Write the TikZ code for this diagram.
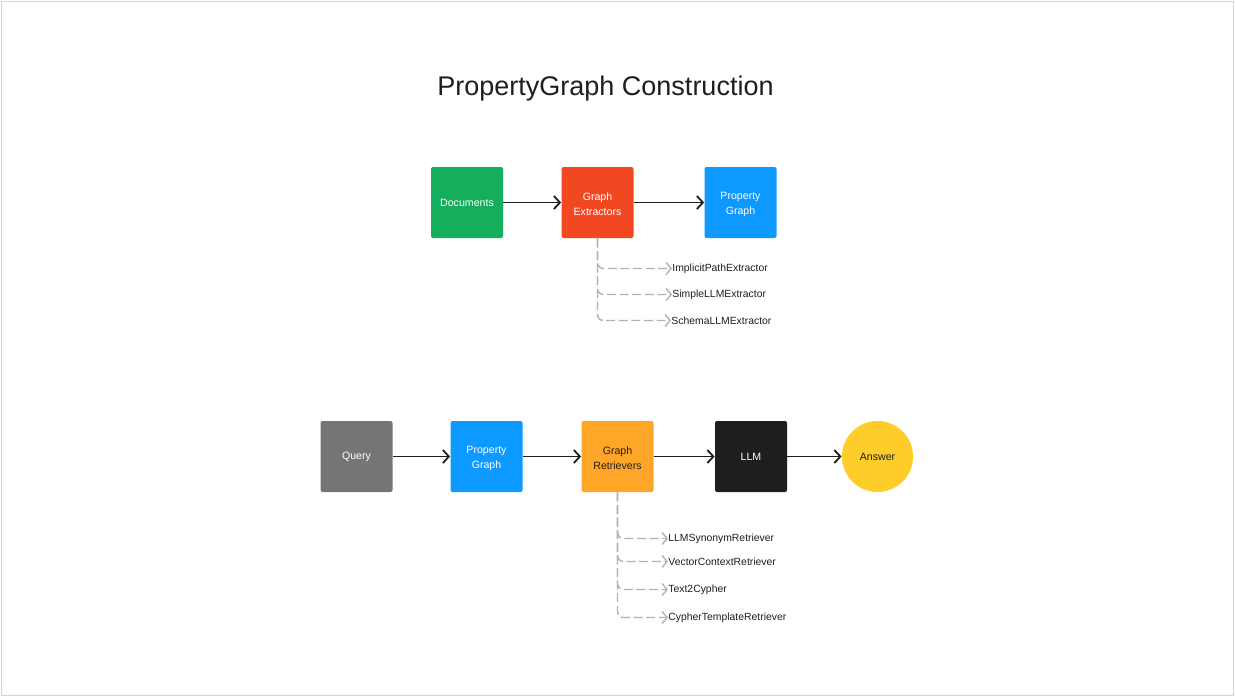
\documentclass[tikz,border=0pt]{standalone}
\usepackage{fontspec}
\setmainfont{Liberation Sans}
\usetikzlibrary{arrows.meta}
\definecolor{figgreen}{RGB}{20,174,92}
\definecolor{figred}{RGB}{242,72,34}
\definecolor{figblue}{RGB}{13,153,255}
\definecolor{figorange}{RGB}{255,166,41}
\definecolor{figyellow}{RGB}{255,205,41}
\definecolor{figgray}{RGB}{117,117,117}
\definecolor{figblack}{RGB}{30,30,30}
\definecolor{branchgray}{RGB}{178,178,178}
\tikzset{
    stagebox/.style={rectangle,rounded corners=1pt,inner sep=0pt,minimum width=36pt,minimum height=35.5pt,
        text=white,align=center,font=\fontsize{5.3}{7.5}\selectfont},
    flow/.style={-{Straight Barb[length=3pt,width=6.5pt]},line width=0.9pt,draw=figblack},
    branch/.style={-{Straight Barb[length=2.5pt,width=6pt]},line width=0.7pt,draw=branchgray,
        dash pattern=on 4.5pt off 1.8pt,rounded corners=3pt},
    leaf/.style={anchor=west,inner sep=0pt,text=figblack,font=\fontsize{5.2}{6}\selectfont}
}
\begin{document}
\begin{tikzpicture}[x=0.5pt,y=-0.5pt]
        \useasboundingbox (0,0) rectangle (1235,697);
        \draw[draw={rgb,255:red,212;green,212;blue,212},line width=0.6pt] (1.5,1.5) rectangle (1233.5,695.5);
        \node[text=figblack,font=\fontsize{13.5}{16}\selectfont] (title) at (605.5,89) {PropertyGraph Construction};
        % construction row
        \begin{scope}[every node/.style={stagebox}]
            \node[fill=figgreen] (docs) at (467,202.5) {Documents};
            \node[fill=figred] (extractors) at (597.5,202.5) {\strut Graph\\Extractors};
            \node[fill=figblue] (pg-top) at (740.5,202.5) {\strut Property\\Graph};
        \end{scope}
        \draw[flow] (docs) -- (extractors);
        \draw[flow] (extractors) -- (pg-top);
        \node[leaf] (implicit) at (672,268.5) {ImplicitPathExtractor};
        \node[leaf] (simple) at (672,294.5) {SimpleLLMExtractor};
        \node[leaf] (schema) at (671,320.5) {SchemaLLMExtractor};
        \draw[branch] (extractors.south) |- (implicit.west);
        \draw[branch] (extractors.south) |- (simple.west);
        \draw[branch] (extractors.south) |- (schema.west);
        % retrieval row
        \begin{scope}[every node/.style={stagebox}]
            \node[fill=figgray] (query) at (356.5,456.5) {Query};
            \node[fill=figblue] (pg-bottom) at (486.5,456.5) {\strut Property\\Graph};
            \node[fill=figorange,text=figblack] (retrievers) at (617.5,456.5) {\strut Graph\\Retrievers};
            \node[fill=figblack] (llm) at (751,456.5) {LLM};
            \node[fill=figyellow,circle,minimum size=35.5pt,text=figblack] (answer) at (877.5,456.5) {Answer};
        \end{scope}
        \draw[flow] (query) -- (pg-bottom);
        \draw[flow] (pg-bottom) -- (retrievers);
        \draw[flow] (retrievers) -- (llm);
        \draw[flow] (llm) -- (answer);
        \node[leaf] (synonym) at (668,538.5) {LLMSynonymRetriever};
        \node[leaf] (vector) at (668,561.5) {VectorContextRetriever};
        \node[leaf] (cypher) at (668,589.5) {Text2Cypher};
        \node[leaf] (template) at (668,617.5) {CypherTemplateRetriever};
        \draw[branch] (retrievers.south) |- (synonym.west);
        \draw[branch] (retrievers.south) |- (vector.west);
        \draw[branch] (retrievers.south) |- (cypher.west);
        \draw[branch] (retrievers.south) |- (template.west);
    \end{tikzpicture}
\end{document}
